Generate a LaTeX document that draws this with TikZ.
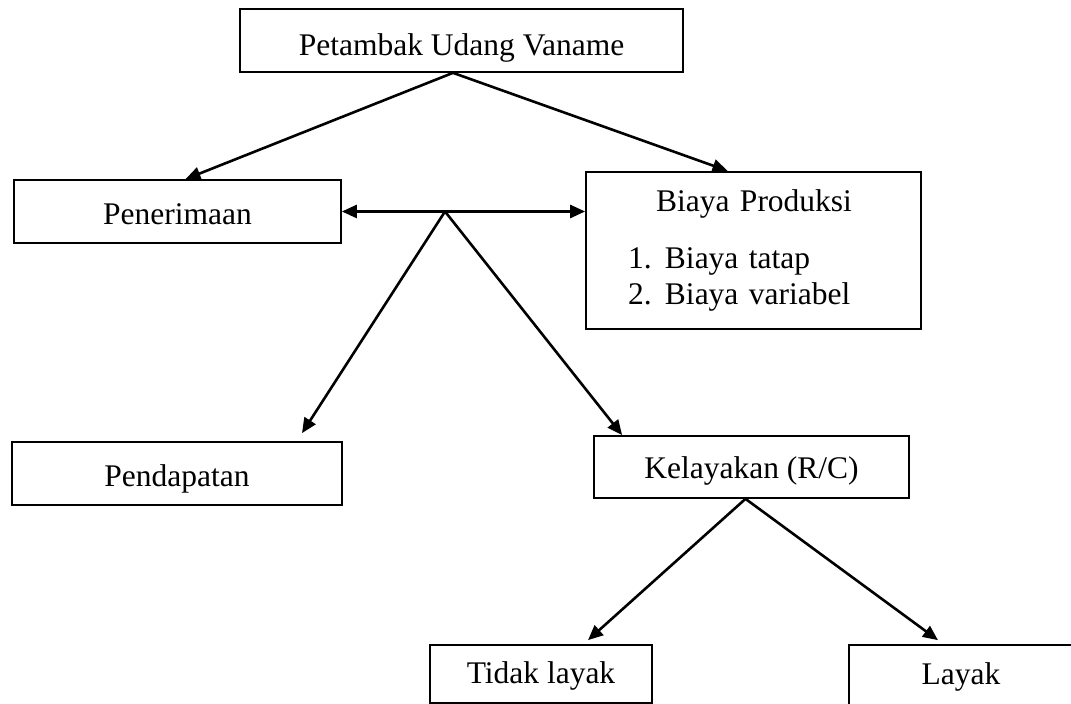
\documentclass[tikz,border=0pt]{standalone}
\usepackage{fontspec}
\setmainfont{Liberation Serif}
\usetikzlibrary{arrows.meta,calc}
\begin{document}
\begin{tikzpicture}[x=0.5pt,y=-0.5pt,
	kotak/.style={draw,line width=0.85pt,inner sep=0pt,text height=16.5pt,text depth=3.5pt,font=\fontsize{15.75}{18}\selectfont},
	rendah/.style={text height=13.5pt},
	panah/.style={line width=1.3pt,-{Triangle[length=7.5pt,width=6.5pt]}},
	dua/.style={line width=1.3pt,{Triangle[length=7.5pt,width=6.5pt]}-{Triangle[length=7.5pt,width=6.5pt]}}]
	\useasboundingbox (0,0) rectangle (1071,704);
	\node[kotak,text height=19pt,minimum width=221.5pt,minimum height=31.5pt] (petambak) at (461.5,40.5) {Petambak Udang Vaname};
	\node[kotak,minimum width=163.5pt,minimum height=31.5pt] (penerimaan) at (177.5,211.5) {Penerimaan};
	\node[kotak,text height=,text depth=,inner xsep=21pt,inner ysep=9pt,text width=125.5pt,align=left,minimum height=74.5pt] (biaya) at (753.5,250.5)
		{\hspace*{14pt}Biaya Produksi\\[10.5pt]\makebox[18.5pt][l]{1.}Biaya tatap\\\makebox[18.5pt][l]{2.}Biaya variabel};
	\node[kotak,minimum width=165pt,minimum height=31.5pt] (pendapatan) at (177,473.5) {Pendapatan};
	\node[kotak,text height=15pt,minimum width=157.5pt,minimum height=31pt] (kelayakan) at (751.5,467) {Kelayakan (R/C)};
	\node[kotak,rendah,minimum width=111pt,minimum height=29pt] (tidak) at (541,674) {Tidak layak};
	\node[kotak,rendah,minimum width=112pt,minimum height=30pt] (layak) at (961,675) {Layak};
	\coordinate (cabang) at (445,211.5);
	% panah dari petambak
	\draw[panah] ([xshift=-4.25pt]petambak.south) -- ([xshift=4pt]penerimaan.north);
	\draw[panah] ([xshift=-4.25pt]petambak.south) -- ([xshift=-13pt]biaya.north);
	\draw[dua] (penerimaan.east) -- (penerimaan.east -| biaya.west);
	\draw[panah] (cabang) -- ([xshift=62.5pt,yshift=4pt]pendapatan.north);
	\draw[panah] (cabang) -- ([xshift=14.5pt]kelayakan.north west);
	% kelayakan
	\draw[panah] ([xshift=-3pt]kelayakan.south) -- ([xshift=23.5pt,yshift=2pt]tidak.north);
	\draw[panah] ([xshift=-3pt]kelayakan.south) -- ([xshift=-11.5pt,yshift=2pt]layak.north);
\end{tikzpicture}
\end{document}
